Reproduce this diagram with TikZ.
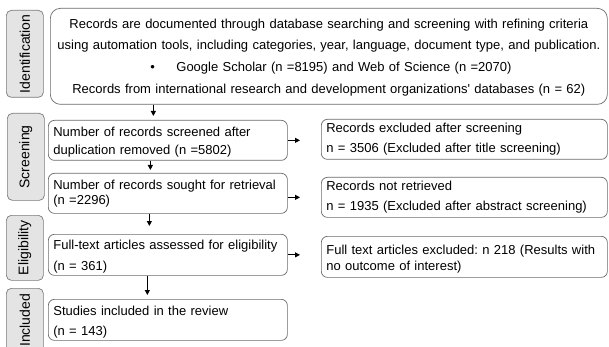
\documentclass[tikz,border=0pt]{standalone}
\usepackage{fontspec}
\setmainfont{Liberation Sans}
\usepackage{graphicx}
\usepackage{xcolor}
\usepackage{tikz}
\usetikzlibrary{positioning, arrows.meta, calc}
\definecolor{stagefill}{HTML}{E4E4E4}
\definecolor{stageedge}{HTML}{7A7A7A}
\definecolor{boxedge}{HTML}{6A6A6A}
\frenchspacing

\begin{document}
\begin{tikzpicture}[x=1pt, y=-1pt,
  stage/.style={draw=stageedge, fill=stagefill, rounded corners=5pt, line width=0.7pt,
                anchor=north west, minimum width=37pt, inner sep=0pt,
                font=\fontsize{14}{16}\selectfont},
  flowbox/.style={draw=boxedge, rounded corners=6pt, line width=0.7pt, anchor=north west,
                  inner xsep=5pt, inner ysep=0pt, align=left,
                  font=\fontsize{13}{15.6}\selectfont},
  lower/.style={execute at begin node={\rule{0pt}{#1}}},
  leftbox/.style={flowbox, text width=229pt, minimum height=40pt},
  rightbox/.style={flowbox, text width=276pt, minimum height=40pt},
  arr/.style={-{Triangle[length=5pt,width=5pt]}, line width=1pt}]
  \useasboundingbox (0,0) rectangle (609,347);
  \clip (0,0) rectangle (609,347);

  % stage labels down the left side
  \node[stage, minimum height=87pt] (idstage) at (6,10) {\rotatebox{90}{Identification}};
  \node[stage, minimum height=87pt] (scrstage) at (7,113) {\rotatebox{90}{Screening}};
  \node[stage, minimum height=65pt] (eligstage) at (6,215) {\rotatebox{90}{Eligibility}};
  \node[stage, minimum height=64pt] (inclstage) at (6,288) {\rotatebox{90}{Included}};

  % identification
  \node[flowbox, lower=12.6pt, rounded corners=10pt, inner xsep=3.5pt, text width=550pt,
        minimum height=96pt, align=center]
    (records) at (50,8) {%
    Records are documented through database searching and screening with refining criteria\\[5pt]
    using automation tools, including categories, year, language, document type, and publication.\\[6pt]
    \makebox[550pt][l]{\hspace{96.5pt}\textbullet\hspace{21.5pt}Google Scholar (n =8195) and Web of Science (n =2070)}\\[7pt]
    Records from international research and development organizations\textquotesingle{} databases (n = 62)};

  % main column
  \node[leftbox, lower=13.4pt] (screened) at (48,120) {Number of records screened after\\[2pt]duplication removed (n =5802)};
  \node[leftbox] (sought) at (48,173) {Number of records sought for retrieval\\[-1pt](n =2296)};
  \node[leftbox, lower=13.4pt, minimum height=41pt] (fulltext) at (48,234) {Full-text articles assessed for eligibility\\[5pt](n = 361)};
  \node[leftbox, lower=13.4pt, minimum height=41pt] (studies) at (48,299) {Studies included in the review\\[4pt](n = 143)};

  % exclusions
  \node[rightbox] (excluded) at (321,119) {Records excluded after screening\\[4pt]n = 3506 (Excluded after title screening)};
  \node[rightbox] (notret) at (321,177) {Records not retrieved\\[4pt]n = 1935 (Excluded after abstract screening)};
  \node[rightbox, lower=13.4pt, minimum height=41pt] (ftexcl) at (321,236) {Full text articles excluded: n 218 (Results with\\no outcome of interest)};

  % downward arrows
  \coordinate (dropA) at ([xshift=-14.5pt]screened.north);
  \coordinate (dropB) at ([xshift=-17.5pt]sought.north);
  \coordinate (dropC) at ([xshift=-18.5pt]fulltext.north);
  \coordinate (dropD) at ([xshift=-20.5pt]studies.north);
  \draw[arr, shorten >=4pt] (dropA |- records.south) -- (dropA);
  \draw[arr, shorten >=3pt] (dropB |- screened.south) -- (dropB);
  \draw[arr, shorten >=8pt] (dropC |- sought.south) -- (dropC);
  \draw[arr, shorten >=4pt] (dropD |- fulltext.south) -- (dropD);

  % sideways arrows
  \draw[arr, shorten >=21pt] (screened.east) -- (screened.east -| excluded.west);
  \draw[arr, shorten >=21pt] (sought.east |- notret.west) -- (notret.west);
  \draw[arr, shorten >=21pt] (fulltext.east) -- (fulltext.east -| ftexcl.west);
\end{tikzpicture}
\end{document}
